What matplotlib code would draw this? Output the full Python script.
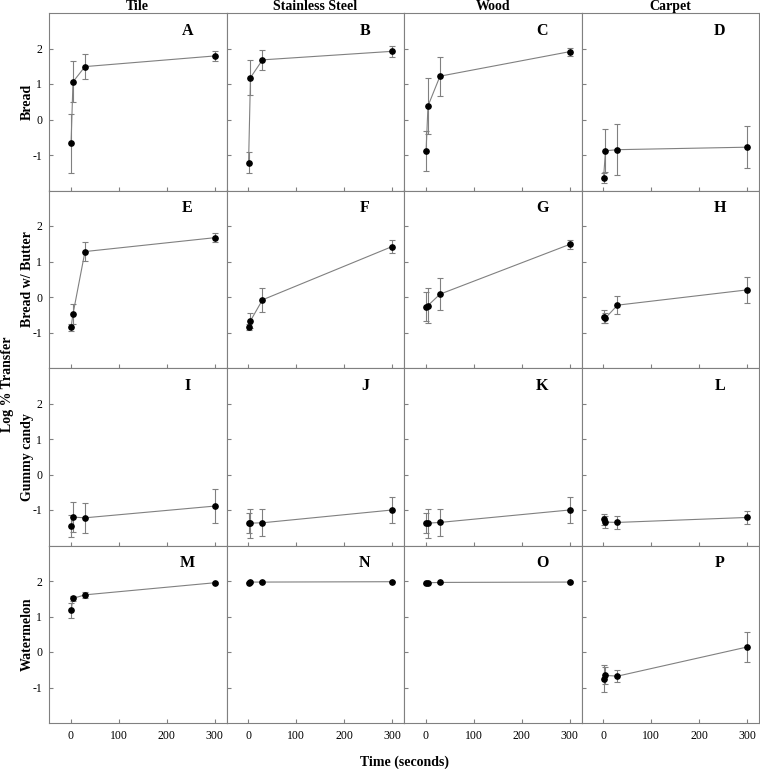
import numpy as np
import matplotlib.pyplot as plt

plt.rcParams['font.family'] = ['Liberation Serif', 'DejaVu Serif']
plt.rcParams['axes.unicode_minus'] = False

# Datos
times = [1, 5, 30, 300]
surfaces = ['Tile', 'Stainless Steel', 'Wood', 'Carpet']
foods = ['Bread', 'Bread w/ Butter', 'Gummy candy', 'Watermelon']
letters = ['A', 'B', 'C', 'D', 'E', 'F', 'G', 'H',
           'I', 'J', 'K', 'L', 'M', 'N', 'O', 'P']

# media por superficie (Tile, Stainless Steel, Wood, Carpet)
bread_mean = [[-0.67, 1.06, 1.49, 1.79],
              [-1.22, 1.18, 1.68, 1.92],
              [-0.89, 0.38, 1.22, 1.91],
              [-1.65, -0.88, -0.85, -0.78]]
bread_err = [[0.83, 0.58, 0.35, 0.15],
             [0.30, 0.50, 0.28, 0.15],
             [0.56, 0.80, 0.55, 0.11],
             [0.15, 0.60, 0.71, 0.60]]

butter_mean = [[-0.85, -0.48, 1.28, 1.67],
               [-0.85, -0.67, -0.08, 1.42],
               [-0.28, -0.24, 0.08, 1.48],
               [-0.55, -0.59, -0.23, 0.20]]
butter_err = [[0.10, 0.28, 0.26, 0.12],
              [0.08, 0.21, 0.34, 0.18],
              [0.41, 0.50, 0.45, 0.12],
              [0.17, 0.14, 0.25, 0.36]]

gummy_mean = [[-1.45, -1.20, -1.22, -0.89],
              [-1.36, -1.37, -1.36, -1.00],
              [-1.36, -1.37, -1.35, -1.00],
              [-1.26, -1.34, -1.35, -1.21]]
gummy_err = [[0.30, 0.42, 0.42, 0.49],
             [0.28, 0.41, 0.38, 0.37],
             [0.28, 0.41, 0.39, 0.37],
             [0.15, 0.17, 0.19, 0.19]]

melon_mean = [[1.17, 1.51, 1.61, 1.95],
              [1.95, 1.97, 1.97, 1.98],
              [1.93, 1.95, 1.96, 1.97],
              [-0.75, -0.66, -0.68, 0.14]]
melon_err = [[0.21, 0.07, 0.08, 0.03],
             [0.02, 0.02, 0.02, 0.02],
             [0.02, 0.02, 0.02, 0.02],
             [0.37, 0.24, 0.16, 0.42]]

means = [bread_mean, butter_mean, gummy_mean, melon_mean]
errs = [bread_err, butter_err, gummy_err, melon_err]

# Crear figura
fig, axes = plt.subplots(4, 4, figsize=(7.6, 7.69), dpi=100)
plt.subplots_adjust(left=49/760, right=759/760, top=1-13/769, bottom=1-723/769,
                    wspace=0, hspace=0)

gris = '#808080'

for i in range(4):
    for j in range(4):
        ax = axes[i, j]
        ax.errorbar(times, means[i][j], yerr=errs[i][j], fmt='none',
                    ecolor=gris, elinewidth=0.8, capsize=2, capthick=0.8, zorder=2)
        ax.plot(times, means[i][j], color=gris, linewidth=0.8, zorder=3)
        ax.plot(times, means[i][j], 'o', color='black', markersize=3.8, zorder=4)

        ax.set_xlim([-45, 325])
        ax.set_ylim([-2, 3])
        ax.set_xticks([0, 100, 200, 300])
        ax.set_yticks([-1, 0, 1, 2])
        ax.tick_params(direction='in', length=3, color=gris, labelsize=8.5, pad=5)
        for s in ax.spines.values():
            s.set_color(gris)
            s.set_linewidth(0.8)

        if j != 0:
            ax.set_yticklabels([])
        if i != 3:
            ax.set_xticklabels([])

        ax.text(0.78, 0.9, letters[i*4 + j], transform=ax.transAxes,
                fontsize=11.5, fontweight='bold', ha='center', va='center')

        if i == 0:
            ax.set_title(surfaces[j], fontsize=10, fontweight='bold', pad=2)
        if j == 0:
            ax.set_ylabel(foods[i], fontsize=10, fontweight='bold')
            ax.yaxis.set_label_coords(-0.085, 0.5)

fig.text(7.5/760, 0.5, 'Log % Transfer', rotation=90, fontsize=10,
         fontweight='bold', ha='center', va='center')
fig.text(404/760, 1-762/769, 'Time (seconds)', fontsize=10,
         fontweight='bold', ha='center', va='center')

plt.savefig('out.png', dpi=100)
